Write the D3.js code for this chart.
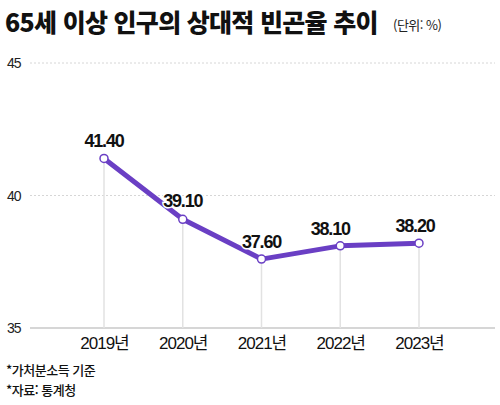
<!DOCTYPE html>
<html lang="ko">
<head>
<meta charset="UTF-8">
<title>65세 이상 인구의 상대적 빈곤율 추이</title>
<script src="https://d3js.org/d3.v7.min.js"></script>
<style>
  body { margin: 0; background: #fff; }
  svg text { font-family: "Liberation Sans", "Noto Sans CJK KR", sans-serif; }
  .ko { font-family: "Noto Sans CJK KR", sans-serif; }
</style>
</head>
<body>
<svg class="chart" width="500" height="405"></svg>
<script>
  const years = ['2019년', '2020년', '2021년', '2022년', '2023년'];
  const rates = [41.40, 39.10, 37.60, 38.10, 38.20];
  const yTicks = [35, 40, 45];

  const svg = d3.select('svg.chart');
  const margins = { left: 30, right: 5, top: 63, bottom: 77 };
  const width = 500, height = 405;

  const xScale = d3.scalePoint().domain(years).range([104, 419]);
  const yScale = d3.scaleLinear().domain([35, 45]).range([height - margins.bottom, margins.top]);

  // title
  svg.append('text').attr('class', 'ko')
    .attr('x', 5).attr('y', 32)
    .attr('font-size', 25).attr('font-weight', 900).attr('letter-spacing', -0.7)
    .attr('fill', '#111')
    .text('65세 이상 인구의 상대적 빈곤율 추이');
  svg.append('text').attr('class', 'ko')
    .attr('x', 393).attr('y', 30)
    .attr('font-size', 13).attr('fill', '#222').attr('letter-spacing', -0.5)
    .text('(단위: %)');

  // horizontal gridlines
  yTicks.forEach(t => {
    svg.append('line')
      .attr('x1', margins.left).attr('x2', width - margins.right)
      .attr('y1', yScale(t)).attr('y2', yScale(t))
      .attr('stroke', t === 35 ? '#c8c8c8' : '#d6d6d6')
      .attr('stroke-width', t === 35 ? 1.5 : 1)
      .attr('stroke-dasharray', t === 35 ? null : '2,2');
    svg.append('text')
      .attr('x', 7).attr('y', yScale(t) + 5)
      .attr('font-size', 14).attr('fill', '#222').attr('letter-spacing', -1)
      .text(t);
  });

  // vertical drop lines
  years.forEach((y, i) => {
    svg.append('line')
      .attr('x1', xScale(y)).attr('x2', xScale(y))
      .attr('y1', yScale(rates[i])).attr('y2', yScale(35))
      .attr('stroke', '#e2e2e2').attr('stroke-width', 1.5);
  });

  // x axis labels
  const bottomAxis = d3.axisBottom(xScale).tickSize(0).tickPadding(9);
  const xg = svg.append('g')
    .attr('transform', `translate(0,${yScale(35)})`)
    .call(bottomAxis);
  xg.select('.domain').remove();
  xg.selectAll('text')
    .attr('font-family', '"Liberation Sans", "Noto Sans CJK KR", sans-serif')
    .attr('font-size', 17).attr('fill', '#111').attr('letter-spacing', -1);

  // line
  const line = d3.line().x((d, i) => xScale(years[i])).y(d => yScale(d));
  svg.append('path')
    .datum(rates)
    .attr('d', line)
    .attr('fill', 'none')
    .attr('stroke', '#6a3fc4')
    .attr('stroke-width', 5)
    .attr('stroke-linejoin', 'round');

  svg.selectAll('circle.pt')
    .data(rates)
    .join('circle')
    .attr('class', 'pt')
    .attr('cx', (d, i) => xScale(years[i]))
    .attr('cy', d => yScale(d))
    .attr('r', 4)
    .attr('fill', '#fff')
    .attr('stroke', '#6a3fc4')
    .attr('stroke-width', 1.5);

  // value labels
  const labelDx = [0, 0, 0, -10, -4];
  svg.selectAll('text.val')
    .data(rates)
    .join('text')
    .attr('class', 'val')
    .attr('x', (d, i) => xScale(years[i]) + labelDx[i])
    .attr('y', (d, i) => yScale(d) - (i === 1 ? 12 : 11))
    .attr('text-anchor', 'middle')
    .attr('font-size', 18).attr('font-weight', 'bold').attr('letter-spacing', -1.2)
    .attr('fill', '#111')
    .attr('stroke', '#fff').attr('stroke-width', 3).attr('paint-order', 'stroke')
    .text(d => d.toFixed(2));

  // footnotes
  ['*가처분소득 기준', '*자료: 통계청'].forEach((t, i) => {
    svg.append('text').attr('class', 'ko')
      .attr('x', 6).attr('y', 375 + i * 20)
      .attr('font-size', 13).attr('font-weight', 500).attr('fill', '#111').attr('letter-spacing', -0.5)
      .text(t);
  });
</script>
</body>
</html>
